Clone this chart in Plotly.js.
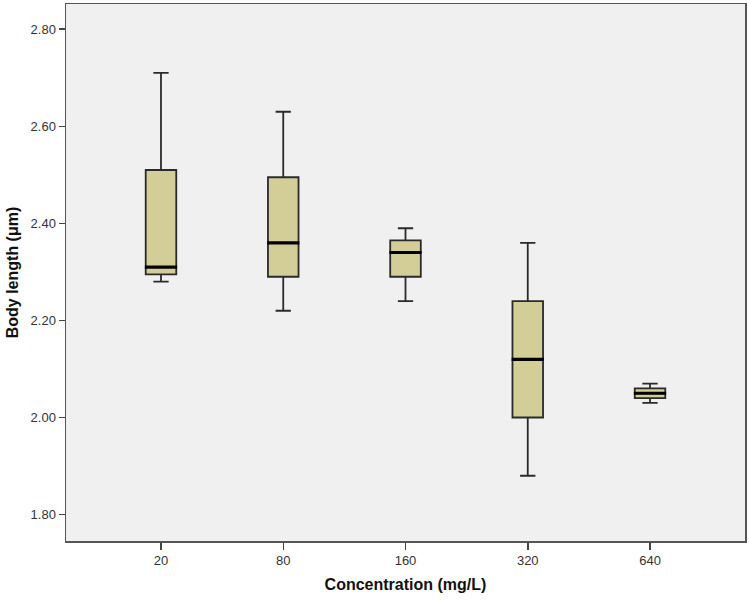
<!DOCTYPE html>
<html>
<head>
<meta charset="utf-8">
<script src="https://cdn.plot.ly/plotly-3.0.1.min.js"></script>
<style>html,body{margin:0;padding:0;background:#fff;}#chart{width:749px;height:600px;}</style>
</head>
<body>
<div id="chart"></div>
<script>
const categories = ["20", "80", "160", "320", "640"];
const lowerWhisker = [2.28, 2.22, 2.24, 1.88, 2.03];
const q1 = [2.295, 2.29, 2.29, 2.00, 2.04];
const medians = [2.31, 2.36, 2.34, 2.12, 2.05];
const q3 = [2.51, 2.495, 2.365, 2.24, 2.06];
const upperWhisker = [2.71, 2.63, 2.39, 2.36, 2.07];
const yTickVals = [1.8, 2.0, 2.2, 2.4, 2.6, 2.8];

const boxTrace = {
  type: 'box',
  x: categories,
  q1: q1,
  median: medians,
  q3: q3,
  lowerfence: lowerWhisker,
  upperfence: upperWhisker,
  width: 0.25,
  whiskerwidth: 0.5,
  fillcolor: '#d3ce98',
  line: {color: '#2a2a2a', width: 1.8},
  boxpoints: false,
  hoverinfo: 'skip',
  showlegend: false
};

const medianTrace = {
  type: 'scatter',
  mode: 'markers',
  x: categories,
  y: medians,
  marker: {symbol: 'line-ew', size: 23, line: {color: '#000000', width: 3.2}},
  hoverinfo: 'skip',
  showlegend: false
};

const layout = {
  width: 749,
  height: 600,
  margin: {l: 66, r: 4, t: 4, b: 59},
  paper_bgcolor: '#ffffff',
  plot_bgcolor: '#f0f0f0',
  font: {family: 'Liberation Sans, Arial, sans-serif', size: 13, color: '#333333'},
  xaxis: {
    type: 'category',
    categoryorder: 'array',
    categoryarray: categories,
    range: [-0.777, 4.777],
    showgrid: false,
    zeroline: false,
    showline: true,
    linecolor: '#555555',
    linewidth: 1.5,
    mirror: true,
    ticks: 'outside',
    ticklen: 7,
    tickwidth: 1.5,
    tickcolor: '#444444',
    tickfont: {size: 13, color: '#333333'},
    title: {text: 'Concentration (mg/L)', font: {size: 16, color: '#111111', family: 'Liberation Sans, Arial, sans-serif', weight: 'bold'}, standoff: 11}
  },
  yaxis: {
    range: [1.7456, 2.852],
    tickvals: yTickVals,
    tickformat: '.2f',
    showgrid: false,
    zeroline: false,
    showline: true,
    linecolor: '#555555',
    linewidth: 1.5,
    mirror: true,
    ticks: 'outside',
    ticklen: 6,
    tickwidth: 1.5,
    tickcolor: '#444444',
    tickfont: {size: 13, color: '#333333'},
    title: {text: 'Body length (μm)', font: {size: 16, color: '#111111', family: 'Liberation Sans, Arial, sans-serif', weight: 'bold'}, standoff: 8}
  }
};

Plotly.newPlot('chart', [boxTrace, medianTrace], layout, {displayModeBar: false, staticPlot: true});
</script>
</body>
</html>
